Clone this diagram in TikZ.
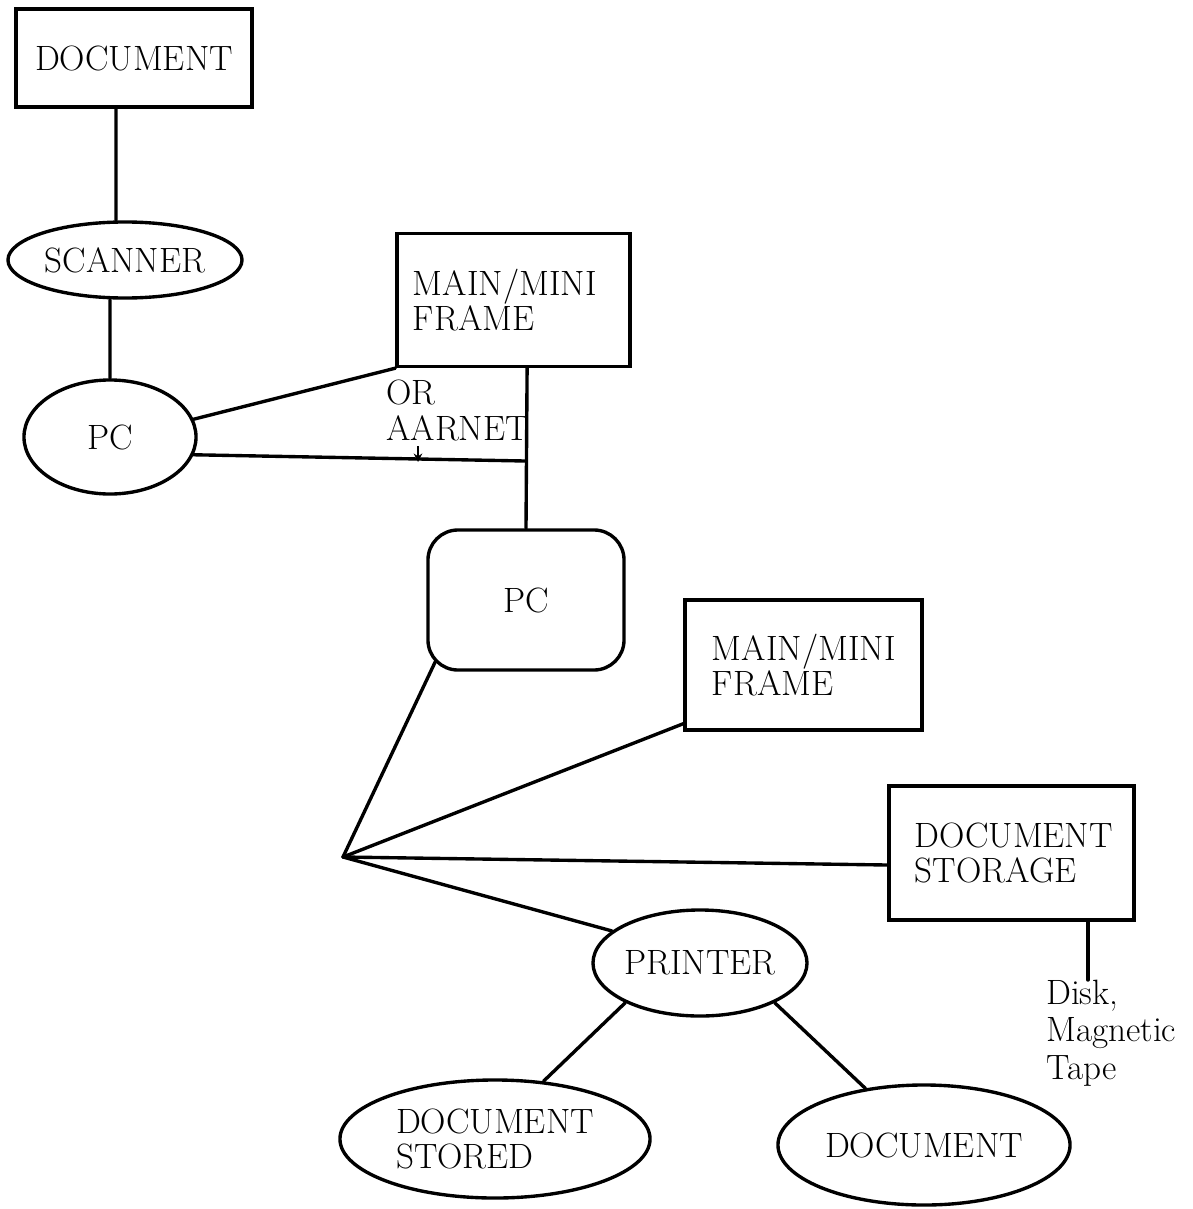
\documentclass[tikz,border=0pt]{standalone}
\usetikzlibrary{shapes.geometric,arrows.meta}
\begin{document}
\begin{tikzpicture}[x=0.025cm,y=-0.025cm,
  every node/.style={font=\fontsize{25}{25}\selectfont},
  lnk/.style={line width=2.4pt, line cap=round},
  boxnode/.style={draw, line width=2.4pt, rectangle, inner sep=0pt},
  ovalnode/.style={draw, line width=2.4pt, ellipse, inner sep=0pt},
  lbl/.style={inner sep=0pt, align=left, anchor=north west}]
\useasboundingbox (0,0) rectangle (1192,1209);

\node[boxnode, minimum width=5.9cm, minimum height=2.45cm] (doc1) at (134,58) {DOCUMENT};
\node[ovalnode, minimum width=5.85cm, minimum height=1.9cm] (scan) at (125,260) {SCANNER};
\node[ovalnode, minimum width=4.3cm, minimum height=2.85cm] (pc1) at (110,437) {PC};
\node[boxnode, minimum height=3.325cm, text width=5.025cm, inner xsep=0.4cm, align=left] (m1) at (513.5,300) {MAIN/MINI\\FRAME};
\node[draw, line width=2.4pt, rounded corners=0.75cm, minimum width=4.9cm, minimum height=3.5cm, inner sep=0pt] (pc2) at (526,600) {PC};
\node[boxnode, minimum height=3.25cm, text width=4.575cm, inner xsep=0.675cm, align=left] (m2) at (803.5,665) {MAIN/MINI\\FRAME};
\node[boxnode, minimum height=3.35cm, text width=4.825cm, inner xsep=0.65cm, align=left] (st) at (1011.5,853) {DOCUMENT\\STORAGE};
\node[ovalnode, minimum width=4.8cm, minimum height=2.65cm] (pr) at (700,963) {PRINTER};
\node[ovalnode, minimum width=7.75cm, minimum height=2.95cm, align=left] (ds) at (495,1139) {DOCUMENT\\STORED};
\node[ovalnode, minimum width=7.3cm, minimum height=3.0cm] (db) at (924,1145) {DOCUMENT};

\node[lbl] (or) at (386,380) {OR\\AARNET};
\node[lbl, font=\fontsize{25}{26.5}\selectfont] (disk) at (1046,980) {Disk,\\Magnetic\\Tape};

\coordinate (hub) at (343,857);
\coordinate (j) at (525,461);
\coordinate (a1) at (418,446);
\coordinate (a2) at (418,462);

\draw[lnk] ([xshift=-0.45cm]doc1.south) -- ([xshift=-0.225cm]scan.north);
\draw[lnk] ([xshift=-0.375cm]scan.south) -- (pc1.north);
\draw[lnk] (pc1.12) -- (m1.south west);
\draw[lnk] (pc1.-12) -- (j);
\draw[lnk] ([xshift=0.34cm]m1.south) -- (pc2.north);
\draw[line width=1.6pt, -{Stealth[length=6pt,width=6pt]}] (a1) -- (a2);
\draw[lnk] ([shift={(0.225cm,0.25cm)}]pc2.south west) -- (hub);
\draw[lnk] (hub) -- ([yshift=0.2cm]m2.south west);
\draw[lnk] (hub) -- ([yshift=-0.3cm]st.west);
\draw[lnk] (hub) -- (pr.160);
\draw[lnk] (pr.-152) -- (ds.50);
\draw[lnk] (pr.-28) -- (db.136);
\coordinate (sd) at ([xshift=1.91cm]st.south);
\draw[lnk] (sd) -- (sd |- disk.north);
\end{tikzpicture}
\end{document}
